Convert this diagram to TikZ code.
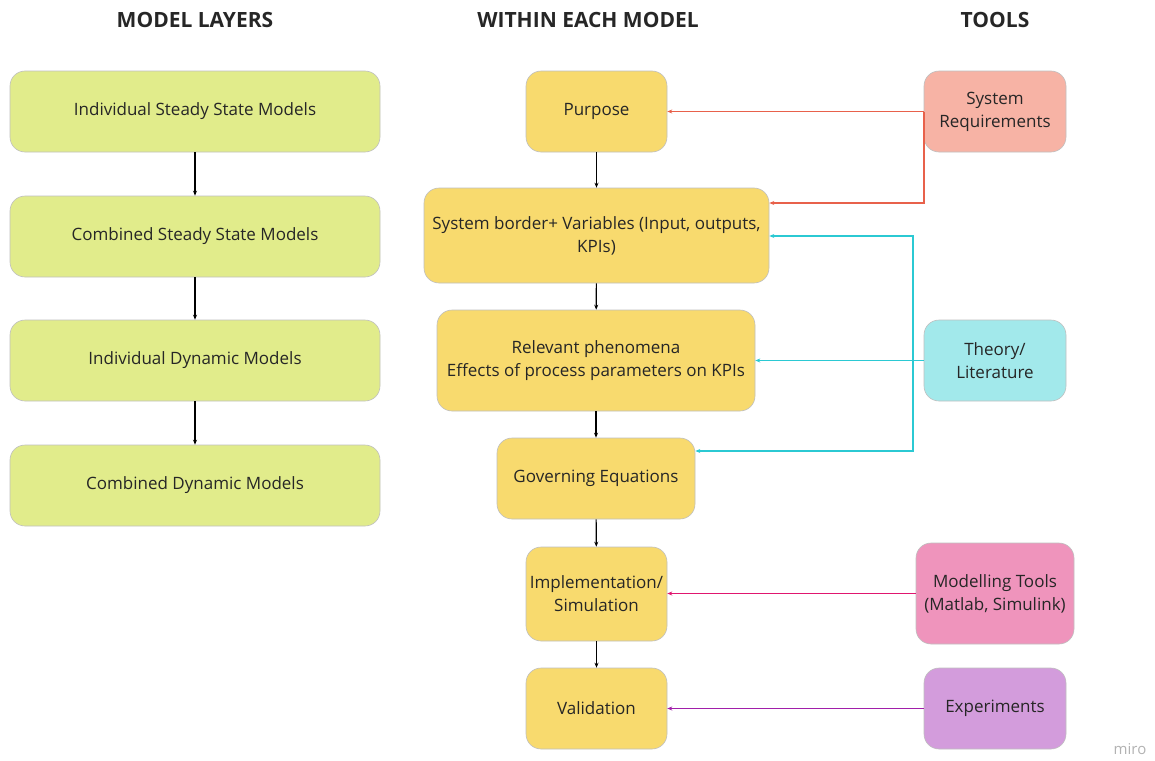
\documentclass[tikz,border=0pt]{standalone}
\usepackage{fontspec}
\setmainfont{Open Sans}
\usetikzlibrary{arrows.meta}
\definecolor{cgreen}{HTML}{E1EC8B}
\definecolor{cyellow}{HTML}{F8DA6E}
\definecolor{csalmon}{HTML}{F7B3A5}
\definecolor{ccyan}{HTML}{A2E9EB}
\definecolor{cpink}{HTML}{EF94BC}
\definecolor{cpurple}{HTML}{D39CDC}
\definecolor{lred}{HTML}{E8614B}
\definecolor{lcyan}{HTML}{2BC9D3}
\definecolor{lmag}{HTML}{E0166F}
\definecolor{lpur}{HTML}{A11FAA}
\definecolor{txt}{HTML}{262626}
\tikzset{
 box/.style={draw=black!25, line width=0.6pt, rounded corners=15pt, inner sep=0pt, align=center, text=txt, font=\fontsize{17}{23}\selectfont},
 ttl/.style={font=\bfseries\fontsize{21}{24}\selectfont, text=txt},
 arr/.style={-{Stealth[length=5pt,width=4pt]}, line width=1.1pt},
 col/.style={-{Stealth[length=5pt,width=4pt]}, line width=1.8pt},
}
\newcommand{\bx}[7]{% name, x1,y1,x2,y2, fill, text
 \node[box, fill=#6, minimum width={(#4-#2)*1pt}, minimum height={(#5-#3)*1pt}] (#1) at ({(#2+#4)/2},{(#3+#5)/2}) {#7};}
\begin{document}
\begin{tikzpicture}[x=1pt,y=-1pt]
\useasboundingbox (0,0) rectangle (1155,760);
\node[ttl] (t1) at (195,20) {MODEL LAYERS};
\node[ttl] (t2) at (588,20) {WITHIN EACH MODEL};
\node[ttl] (t3) at (995,20) {TOOLS};

\bx{l1}{10}{71}{380}{152}{cgreen}{Individual Steady State Models}
\bx{l2}{10}{196}{380}{277}{cgreen}{Combined Steady State Models}
\bx{l3}{10}{320}{380}{401}{cgreen}{Individual Dynamic Models}
\bx{l4}{10}{445}{380}{526}{cgreen}{Combined Dynamic Models}

\bx{m1}{526}{71}{667}{152}{cyellow}{Purpose}
\bx{m2}{424}{188}{769}{283}{cyellow}{System border+ Variables (Input, outputs,\\KPIs)}
\bx{m3}{437}{310}{755}{411}{cyellow}{Relevant phenomena\\Effects of process parameters on KPIs}
\bx{m4}{497}{438}{695}{519}{cyellow}{Governing Equations}
\bx{m5}{526}{547}{667}{641}{cyellow}{Implementation/\\Simulation}
\bx{m6}{526}{668}{667}{749}{cyellow}{Validation}

\bx{r1}{924}{71}{1066}{152}{csalmon}{System\\Requirements}
\bx{r2}{924}{320}{1066}{401}{ccyan}{Theory/\\Literature}
\bx{r3}{916}{543}{1074}{644}{cpink}{Modelling Tools\\(Matlab, Simulink)}
\bx{r4}{924}{668}{1066}{749}{cpurple}{Experiments}

\node[text=black!30, font=\fontsize{15}{16}\selectfont] (miro) at (1130,749) {miro};

\draw[arr] (l1) -- (l2);
\draw[arr] (l2) -- (l3);
\draw[arr] (l3) -- (l4);
\draw[arr] (m1) -- (m2);
\draw[arr] (m2) -- (m3);
\draw[arr] (m3) -- (m4);
\draw[arr] (m4) -- (m5);
\draw[arr] (m5) -- (m6);

\coordinate (cs) at (913,360);
\draw[col, lred] (r1.west) -- (m1.east |- r1.west);
\draw[col, lred] (r1.west) -- (r1.west |- 0,203) -- (m2.east |- 0,203);
\draw[col, lcyan] (r2.west) -- (m3.east |- r2.west);
\draw[col, lcyan] (cs) -- (913,236) -- (m2.east |- 0,236);
\draw[col, lcyan] (cs) -- (913,451) -- (m4.east |- 0,451);
\draw[col, lmag] (r3.west) -- (m5.east |- r3.west);
\draw[col, lpur] (r4.west) -- (m6.east |- r4.west);
\end{tikzpicture}
\end{document}
